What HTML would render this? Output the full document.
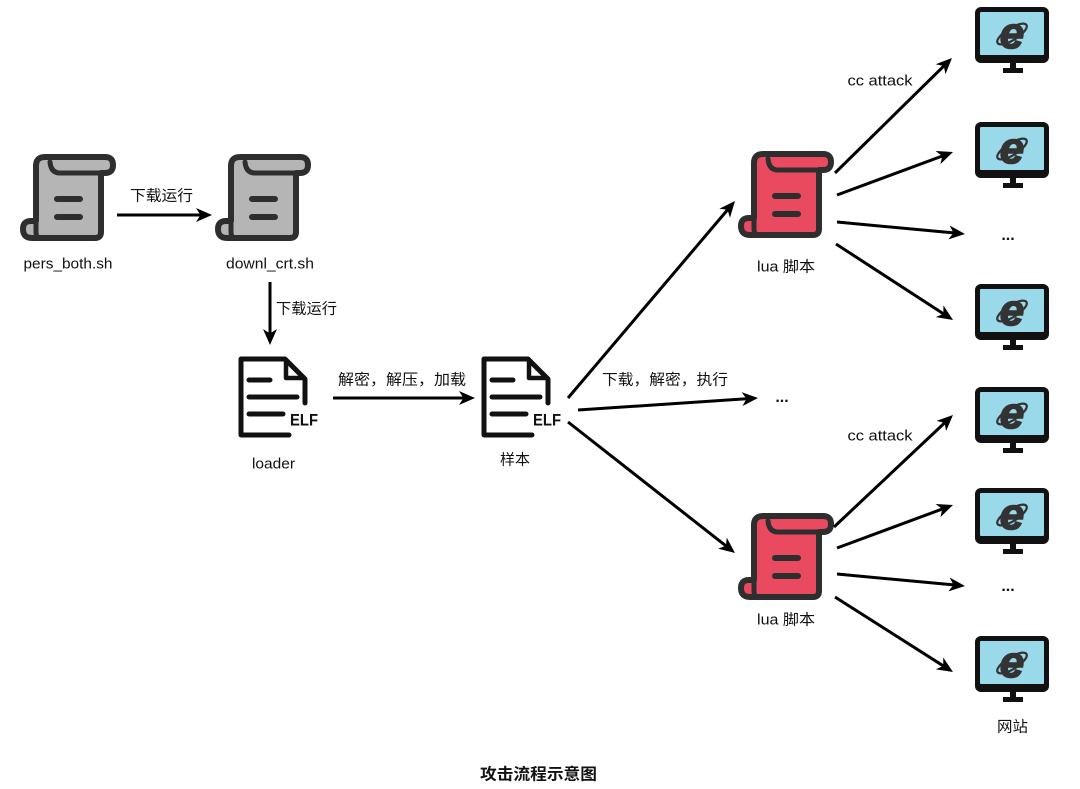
<!DOCTYPE html>
<html>
<head>
<meta charset="utf-8">
<style>
  html,body{margin:0;padding:0;background:#fff;}
  body{width:1080px;height:789px;overflow:hidden;}
  svg{display:block;}
  text{font-family:"Liberation Sans","Noto Sans CJK SC",sans-serif;fill:#111;}
</style>
</head>
<body>
<svg width="1080" height="789" viewBox="0 0 1080 789" xmlns="http://www.w3.org/2000/svg">
  <defs>
    <marker id="ah" viewBox="0 0 16 14" refX="10" refY="7" markerWidth="16" markerHeight="14" orient="auto" markerUnits="userSpaceOnUse">
      <path d="M0,0 L16,7 L0,14 L4.5,7 Z" fill="#000"/>
    </marker>
    <g id="scrollShape">
      <path d="M16,12 Q16,3 25,3 L85,3 Q93,3 93,11 Q93,19 85,19 L81,19 L81,78 Q81,84 75,84 L12,84 Q3,84 3,75 Q3,67 11,67 L16,67 Z" stroke="#2e2e2e" stroke-width="6" stroke-linejoin="round"/>
      <path d="M30,8 Q31,19 40,19 L81,19" fill="none" stroke="#2e2e2e" stroke-width="5" stroke-linecap="round"/>
      <path d="M16,67 L16,78 Q16,84 21,84" fill="none" stroke="#2e2e2e" stroke-width="5" stroke-linecap="round"/>
      <path d="M37,45 L60,45 M37,63 L60,63" stroke="#2e2e2e" stroke-width="6" stroke-linecap="round"/>
    </g>
    <g id="elf">
      <path d="M68,48 L68,24 L48,4 L4,4 L4,80 L52,80" fill="none" stroke="#111" stroke-width="5" stroke-linejoin="round" stroke-linecap="round"/>
      <path d="M49,6 L49,23 L66,23" fill="none" stroke="#111" stroke-width="4.5" stroke-linejoin="round"/>
      <path d="M12,25 L33,25 M12,42 L60,42 M12,59 L46,59" stroke="#111" stroke-width="5" stroke-linecap="round"/>
      <text x="53" y="70.5" font-size="17" font-weight="bold" textLength="28" lengthAdjust="spacingAndGlyphs" style="fill:#111">ELF</text>
    </g>
    <g id="mon">
      <rect x="975" y="0" width="74" height="56" rx="6" fill="#111"/>
      <rect x="980" y="5" width="64" height="43" rx="1" fill="#99d9ea"/>
      <rect x="1010" y="55" width="6" height="7" fill="#111"/>
      <rect x="1003" y="61" width="20" height="5" fill="#111"/>
      <ellipse cx="1012" cy="27" rx="17" ry="6" fill="none" stroke="#333" stroke-width="2.2" transform="rotate(-32 1012 27)"/>
      <text x="1012" y="41" text-anchor="middle" style="fill:#333;font-size:44px;font-weight:bold;font-style:italic;stroke:#333;stroke-width:1.5">e</text>
    </g>
  </defs>

  <!-- scroll icons -->
  <use href="#scrollShape" transform="translate(20,154)" fill="#b5b5b5"/>
  <use href="#scrollShape" transform="translate(215,154)" fill="#b5b5b5"/>
  <use href="#scrollShape" transform="translate(738,151)" fill="#ea4a5f"/>
  <use href="#scrollShape" transform="translate(738,513)" fill="#ea4a5f"/>

  <!-- ELF icons -->
  <use href="#elf" transform="translate(237,355)"/>
  <use href="#elf" transform="translate(480,355)"/>

  <!-- monitors -->
  <use href="#mon" transform="translate(0,7)"/>
  <use href="#mon" transform="translate(0,122)"/>
  <use href="#mon" transform="translate(0,284)"/>
  <use href="#mon" transform="translate(0,387)"/>
  <use href="#mon" transform="translate(0,488)"/>
  <use href="#mon" transform="translate(0,636)"/>

  <!-- arrows -->
  <g stroke="#000" stroke-width="3" fill="none" marker-end="url(#ah)">
    <line x1="117" y1="215" x2="206" y2="215"/>
    <line x1="270" y1="282" x2="270" y2="339"/>
    <line x1="333" y1="398" x2="469" y2="398"/>
    <line x1="568" y1="398" x2="731.1" y2="205.6"/>
    <line x1="578" y1="410" x2="752" y2="398.4"/>
    <line x1="568" y1="422" x2="730.3" y2="549.3"/>
    <line x1="835" y1="173" x2="947.7" y2="62.2"/>
    <line x1="837" y1="195" x2="947.4" y2="154.1"/>
    <line x1="837" y1="222" x2="959" y2="233.4"/>
    <line x1="836" y1="244" x2="948" y2="316.7"/>
    <line x1="834" y1="527" x2="948.6" y2="419.1"/>
    <line x1="837" y1="548" x2="947.4" y2="507.1"/>
    <line x1="837" y1="574" x2="959" y2="585.4"/>
    <line x1="835" y1="597" x2="947.9" y2="668.8"/>
  </g>

  <!-- labels -->
  <g font-size="15" dominant-baseline="central">
    <text x="68" y="264" text-anchor="middle" textLength="89" lengthAdjust="spacingAndGlyphs">pers_both.sh</text>
    <text x="270" y="264" text-anchor="middle" textLength="88" lengthAdjust="spacingAndGlyphs">downl_crt.sh</text>
    <text x="161.5" y="196" text-anchor="middle" textLength="63" lengthAdjust="spacingAndGlyphs">下载运行</text>
    <text x="306.5" y="309" text-anchor="middle" textLength="61" lengthAdjust="spacingAndGlyphs">下载运行</text>
    <text x="402" y="380" text-anchor="middle" textLength="128" lengthAdjust="spacingAndGlyphs">解密，解压，加载</text>
    <text x="273.5" y="464" text-anchor="middle" textLength="43" lengthAdjust="spacingAndGlyphs">loader</text>
    <text x="515" y="460" text-anchor="middle" textLength="30" lengthAdjust="spacingAndGlyphs">样本</text>
    <text x="665" y="380" text-anchor="middle" textLength="126" lengthAdjust="spacingAndGlyphs">下载，解密，执行</text>
    <text x="786" y="267" text-anchor="middle" textLength="58" lengthAdjust="spacingAndGlyphs">lua 脚本</text>
    <text x="786" y="620" text-anchor="middle" textLength="58" lengthAdjust="spacingAndGlyphs">lua 脚本</text>
    <text x="880" y="81" text-anchor="middle" textLength="65" lengthAdjust="spacingAndGlyphs">cc attack</text>
    <text x="880" y="436" text-anchor="middle" textLength="65" lengthAdjust="spacingAndGlyphs">cc attack</text>
    <text x="1012.5" y="727" text-anchor="middle" textLength="31" lengthAdjust="spacingAndGlyphs">网站</text>
  </g>
  <g font-size="16" font-weight="bold" text-anchor="middle">
    <text x="1008" y="240">...</text>
    <text x="1008" y="591">...</text>
    <text x="782" y="402">...</text>
  </g>
  <text x="538.5" y="775" font-size="16" font-weight="bold" text-anchor="middle" dominant-baseline="central" textLength="117" lengthAdjust="spacingAndGlyphs">攻击流程示意图</text>
</svg>
</body>
</html>
